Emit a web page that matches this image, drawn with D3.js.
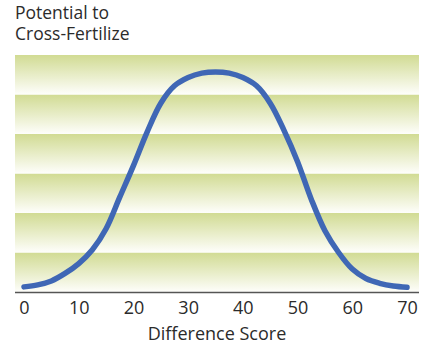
<html>
<head>
<meta charset="utf-8" />
<title>Potential to Cross-Fertilize</title>
<script src="https://cdn.jsdelivr.net/npm/d3@7"></script>
<style>
body { margin: 0; background: #fff; }
text { font-family: "Open Sans", sans-serif; fill: #2b2b2b; }
</style>
</head>
<body>
<script>
// data
var scores = [0, 2.5, 5, 7.5, 10, 12.5, 15, 17.5, 20, 22.5, 25, 27.5, 30, 32.5, 35,
              37.5, 40, 42.5, 45, 47.5, 50, 52.5, 55, 57.5, 60, 62.5, 65, 67.5, 70];
var potential = [0.13, 0.18, 0.28, 0.47, 0.72, 1.07, 1.6, 2.4, 3.2, 4.05, 4.78, 5.22, 5.43, 5.54, 5.57,
                 5.54, 5.43, 5.22, 4.78, 4.1, 3.3, 2.35, 1.55, 1.0, 0.58, 0.34, 0.22, 0.15, 0.12];
var xTicks = [0, 10, 20, 30, 40, 50, 60, 70];
var bands = [0, 1, 2, 3, 4, 5];

var W = 427, H = 345;
var plotL = 15, plotR = 419, plotT = 55, plotB = 292;

var svg = d3.select("body").append("svg").attr("width", W).attr("height", H);

var grad = svg.append("defs").append("linearGradient")
  .attr("id", "band").attr("x1", 0).attr("y1", 0).attr("x2", 0).attr("y2", 1);
grad.append("stop").attr("offset", "0%").attr("stop-color", "#d1db93");
grad.append("stop").attr("offset", "100%").attr("stop-color", "#fefefb");

var x = d3.scaleLinear().domain([0, 70]).range([24, 407]);
var y = d3.scaleLinear().domain([0, 6]).range([plotB, plotT]);

svg.selectAll("rect.band").data(bands).enter().append("rect")
  .attr("class", "band")
  .attr("x", plotL).attr("width", plotR - plotL)
  .attr("y", d => y(d + 1)).attr("height", d => y(d) - y(d + 1))
  .attr("fill", "url(#band)");

var line = d3.line()
  .x((d, i) => x(scores[i]))
  .y(d => y(d))
  .curve(d3.curveCatmullRom.alpha(0.5));

svg.append("path")
  .datum(potential)
  .attr("d", line)
  .attr("fill", "none")
  .attr("stroke", "#3f67b5")
  .attr("stroke-width", 5.5)
  .attr("stroke-linecap", "round");

// x axis
var ax = svg.append("g").attr("transform", "translate(0," + plotB + ")")
  .call(d3.axisBottom(x).tickValues(xTicks).tickSize(0).tickPadding(9));
ax.select(".domain").remove();
ax.selectAll("text").attr("font-size", 18).attr("font-family", null).attr("fill", "#2b2b2b");

svg.append("line")
  .attr("x1", plotL).attr("x2", plotR)
  .attr("y1", plotB + 0.5).attr("y2", plotB + 0.5)
  .attr("stroke", "#555").attr("stroke-width", 1.5);

svg.append("text")
  .attr("x", (plotL + plotR) / 2).attr("y", 340)
  .attr("text-anchor", "middle").attr("font-size", 18)
  .text("Difference Score");

svg.append("text").attr("x", 15).attr("y", 19).attr("font-size", 17.5).text("Potential to");
svg.append("text").attr("x", 15).attr("y", 40).attr("font-size", 17.5).text("Cross-Fertilize");
</script>
</body>
</html>
